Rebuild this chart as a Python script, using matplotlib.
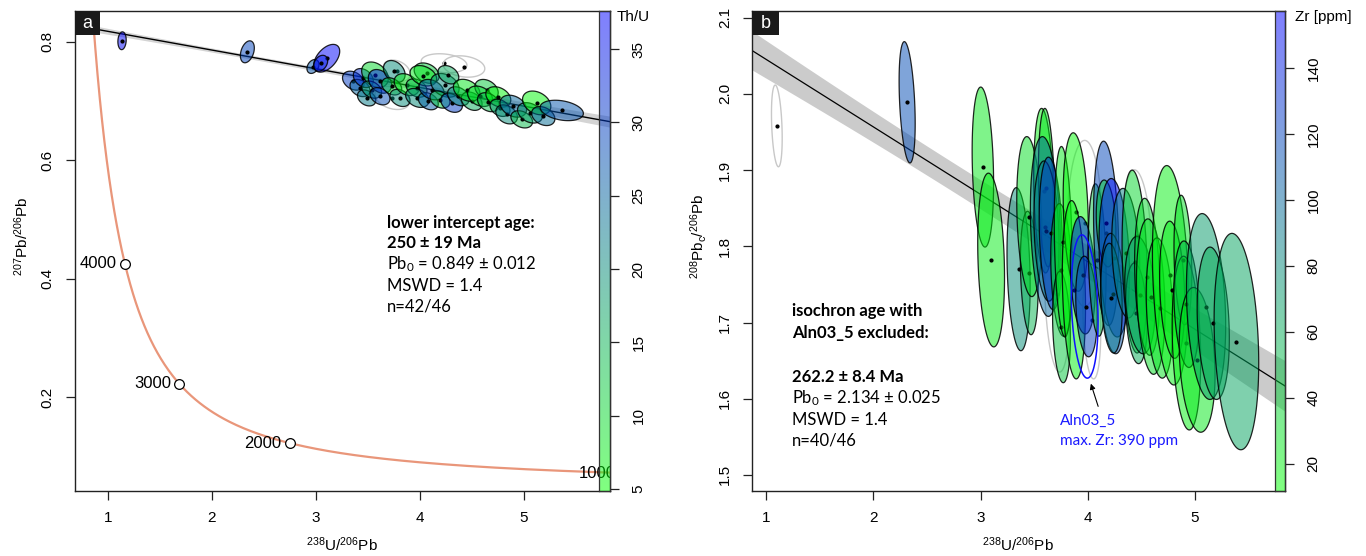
import numpy as np
import matplotlib
matplotlib.use("Agg")
import matplotlib.pyplot as plt
from matplotlib.patches import Polygon, Rectangle, FancyArrowPatch
from matplotlib.colors import LinearSegmentedColormap, Normalize
from matplotlib.transforms import ScaledTranslation

# ---------------- panel a: Tera-Wasserburg, coloured by Th/U ----------------
a_x   = [1.135, 2.340, 2.971, 3.103, 3.045, 3.359, 3.423, 3.487, 3.455, 3.567,
         3.535, 3.615, 3.615, 3.753, 3.728, 3.808, 3.872, 3.967, 4.064, 4.032,
         3.974, 4.080, 4.111, 4.240, 4.192, 4.273, 4.304, 4.369, 4.497, 4.449,
         4.640, 4.577, 4.657, 4.753, 4.769, 4.833, 4.897, 4.978, 5.058, 5.122,
         5.185, 5.363]
a_y   = [0.8016, 0.7830, 0.7582, 0.7721, 0.7637, 0.7343, 0.7219, 0.7052, 0.7387, 0.7443,
         0.7192, 0.7331, 0.7080, 0.7498, 0.7247, 0.7052, 0.7276, 0.7219, 0.7470, 0.7426,
         0.7052, 0.6997, 0.7192, 0.7264, 0.7025, 0.7443, 0.6969, 0.7080, 0.6997, 0.7181,
         0.7192, 0.7080, 0.6980, 0.7069, 0.6885, 0.6774, 0.6913, 0.6691, 0.6800, 0.6968,
         0.6746, 0.6841]
a_ex  = [0.040, 0.067, 0.058, 0.125, 0.067, 0.104, 0.096, 0.088, 0.096, 0.128,
         0.096, 0.112, 0.096, 0.104, 0.096, 0.096, 0.120, 0.100, 0.120, 0.128,
         0.112, 0.096, 0.120, 0.136, 0.096, 0.100, 0.104, 0.104, 0.100, 0.128,
         0.112, 0.120, 0.104, 0.120, 0.096, 0.104, 0.128, 0.104, 0.120, 0.136,
         0.112, 0.208]
a_ey  = [0.0150, 0.0185, 0.0117, 0.0234, 0.0134, 0.0160, 0.0145, 0.0135, 0.0160, 0.0215,
         0.0145, 0.0200, 0.0145, 0.0185, 0.0145, 0.0145, 0.0185, 0.0155, 0.0172, 0.0172,
         0.0160, 0.0145, 0.0172, 0.0200, 0.0145, 0.0155, 0.0160, 0.0160, 0.0155, 0.0185,
         0.0172, 0.0172, 0.0160, 0.0172, 0.0145, 0.0160, 0.0185, 0.0145, 0.0172, 0.0200,
         0.0160, 0.0172]
a_rho = [0.1, 0.35, 0.3, 0.5, 0.3] + [-0.3] * 37
a_thu = [37, 29, 27, 37, 34, 30, 25, 22, 32, 10,
         18, 34, 28, 20, 10, 20, 8, 14, 12, 8,
         20, 26, 28, 20, 12, 16, 30, 20, 16, 8,
         12, 10, 14, 6, 18, 20, 25, 14, 18, 6,
         24, 27]
# excluded analyses (panel a)
a_out_x   = [3.776, 3.734, 4.231, 4.423]
a_out_y   = [0.7510, 0.7052, 0.7637, 0.7582]
a_out_ex  = [0.130, 0.167, 0.220, 0.200]
a_out_ey  = [0.0180, 0.0195, 0.0160, 0.0180]
a_out_rho = [-0.3, -0.3, -0.2, -0.2]
# fit results (panel a)
a_pb0 = 0.849
a_age = 250.0          # Ma, lower intercept
a_cord_ages = [4000, 3000, 2000, 1000]
a_thu_range = (4.86, 37.6)
a_thu_ticks = [5, 10, 15, 20, 25, 30, 35]

# ---------------- panel b: 208Pbc/206Pb isochron, coloured by Zr ----------------
b_x   = [2.316, 3.022, 3.099, 3.355, 3.455, 3.455, 3.588, 3.615, 3.605, 3.615,
         3.655, 3.755, 3.755, 3.771, 3.888, 3.871, 3.954, 3.988, 4.088, 4.171,
         4.171, 4.247, 4.237, 4.221, 4.354, 4.437, 4.454, 4.487, 4.554, 4.587,
         4.670, 4.770, 4.787, 4.887, 4.920, 4.920, 5.020, 5.103, 5.170, 5.386]
b_y   = [1.989, 1.904, 1.782, 1.770, 1.765, 1.839, 1.873, 1.877, 1.826, 1.820,
         1.817, 1.769, 1.694, 1.806, 1.845, 1.743, 1.762, 1.721, 1.782, 1.817,
         1.830, 1.785, 1.738, 1.732, 1.791, 1.780, 1.712, 1.736, 1.760, 1.734,
         1.719, 1.762, 1.743, 1.782, 1.673, 1.724, 1.651, 1.721, 1.699, 1.675]
b_ex  = [0.075, 0.100, 0.125, 0.108, 0.083, 0.117, 0.092, 0.075, 0.140, 0.117,
         0.108, 0.100, 0.083, 0.083, 0.117, 0.108, 0.117, 0.100, 0.083, 0.117,
         0.092, 0.142, 0.117, 0.100, 0.130, 0.117, 0.100, 0.142, 0.117, 0.133,
         0.125, 0.167, 0.117, 0.083, 0.133, 0.117, 0.167, 0.183, 0.150, 0.208]
b_ey  = [0.0796, 0.105, 0.114, 0.107, 0.081, 0.105, 0.108, 0.104, 0.118, 0.092,
         0.100, 0.087, 0.073, 0.125, 0.104, 0.117, 0.077, 0.066, 0.100, 0.121,
         0.057, 0.104, 0.079, 0.072, 0.085, 0.120, 0.066, 0.077, 0.103, 0.102,
         0.092, 0.144, 0.090, 0.085, 0.114, 0.083, 0.095, 0.122, 0.100, 0.142]
b_rho = [-0.35] + [-0.2] * 39
b_zr  = [115, 25, 22, 78, 55, 30, 20, 28, 100, 95,
         125, 18, 45, 25, 15, 20, 145, 120, 50, 118,
         40, 150, 110, 90, 85, 35, 60, 70, 35, 30,
         28, 20, 25, 30, 20, 55, 25, 70, 60, 65]
# excluded analyses (panel b)
b_out_x   = [1.101, 3.971, 4.460, 3.715, 4.038]
b_out_y   = [1.958, 1.830, 1.813, 1.738, 1.703]
b_out_ex  = [0.050, 0.160, 0.133, 0.117, 0.083]
b_out_ey  = [0.0536, 0.109, 0.0875, 0.103, 0.077]
b_out_rho = [-0.3, 0.0, -0.2, -0.2, -0.2]
# Aln03_5 (excluded, highlighted)
aln_x, aln_y, aln_ex, aln_ey, aln_rho = 3.971, 1.721, 0.125, 0.094, -0.2
# fit results (panel b)
b_pb0 = 2.134
b_age = 262.2          # Ma
b_zr_range = (11.7, 157.3)
b_zr_ticks = [20, 40, 60, 80, 100, 120, 140]

# decay constants
L238, L235, U85 = 1.55125e-10, 9.8485e-10, 137.818

# ---------------- figure ----------------
plt.rcParams['font.family'] = ['Liberation Sans', 'DejaVu Sans']
plt.rcParams['mathtext.fontset'] = 'custom'
plt.rcParams['mathtext.rm'] = 'Liberation Sans'
plt.rcParams['mathtext.it'] = 'Liberation Sans:italic'
plt.rcParams['mathtext.bf'] = 'Liberation Sans:bold'

W, H = 1366, 556
fig = plt.figure(figsize=(W / 100, H / 100), dpi=100)


def fbox(l, t, r, b):
    return [l / W, 1 - b / H, (r - l) / W, (b - t) / H]


def fpt(x, y):
    return x / W, 1 - y / H


cmap = LinearSegmentedColormap.from_list('gb', [(0, 1, 0), (0, 0, 1)])
ANNO = ['Lato', 'DejaVu Sans']


def ellipse(ax, x, y, ex, ey, rho, fc, ec, lw, z):
    t = np.linspace(0, 2 * np.pi, 120)
    px = x + ex * np.cos(t)
    py = y + ey * (rho * np.cos(t) + np.sqrt(1 - rho ** 2) * np.sin(t))
    ax.add_patch(Polygon(np.c_[px, py], closed=True, fc=fc, ec=ec, lw=lw, zorder=z))


def style_axes(ax, xticks, yticks, ylabels):
    for s in ax.spines.values():
        s.set_linewidth(1.0)
        s.set_color('#222222')
    ax.set_xticks(xticks)
    ax.set_yticks(yticks)
    ax.set_yticklabels(ylabels)
    ax.tick_params(direction='out', length=6.5, width=0.9, labelsize=11, pad=8,
                   color='#222222')
    ax.tick_params(axis='y', labelrotation=90, pad=8)
    for lb in ax.get_yticklabels():
        lb.set_va('center')


def colorbar(rect, vrange, ticks, label, lpos):
    cax = fig.add_axes(fbox(*rect))
    grad = np.linspace(vrange[0], vrange[1], 256).reshape(-1, 1)
    cax.imshow(grad, aspect='auto', cmap=cmap, alpha=0.5, origin='lower',
               extent=[0, 1, vrange[0], vrange[1]],
               norm=Normalize(vrange[0], vrange[1]))
    cax.patch.set_alpha(0)
    cax.set_xticks([])
    cax.set_ylim(*vrange)
    cax.yaxis.tick_right()
    cax.set_yticks(ticks)
    cax.tick_params(axis='y', direction='out', length=6.5, width=0.9, labelsize=11,
                    pad=9, labelrotation=90, color='#222222')
    for lb in cax.get_yticklabels():
        lb.set_va('center')
    for s in cax.spines.values():
        s.set_linewidth(0.9)
        s.set_color('#333333')
    fig.text(*fpt(*lpos), label, ha='left', va='center', fontsize=11)


def letter(box, ch):
    l, t, r, b = box
    fig.add_artist(Rectangle((l / W, 1 - b / H), (r - l) / W, (b - t) / H,
                             transform=fig.transFigure, fc='#1a1a1a', ec='none', zorder=20))
    fig.text(*fpt((l + r) / 2, (t + b) / 2 + 1), ch, color='white', ha='center',
             va='center', fontsize=13, zorder=21)


# ---------------- panel a ----------------
axa = fig.add_axes(fbox(75, 11, 610, 491))
xa0, xa1 = 0.6827, 5.827
ya0, ya1 = 0.0423, 0.8518
axa.set_xlim(xa0, xa1)
axa.set_ylim(ya0, ya1)

# discordia line from common-Pb intercept to the concordia lower intercept
e8 = np.exp(L238 * a_age * 1e6) - 1
xi = 1 / e8
yi = (np.exp(L235 * a_age * 1e6) - 1) / (U85 * e8)
slope_a = (yi - a_pb0) / xi
xx = np.linspace(xa0, xa1, 200)
yy = a_pb0 + slope_a * xx
hw = np.sqrt(0.0033 ** 2 + (0.00257 * (xx - 2.45)) ** 2)
axa.fill_between(xx, yy - hw, yy + hw, color='#d4d4d4', lw=0, zorder=1)
axa.plot(xx, yy, color='black', lw=1.0, zorder=2)

# concordia
tt = np.linspace(150e6, 5200e6, 600)
cx = 1 / (np.exp(L238 * tt) - 1)
cy = (np.exp(L235 * tt) - 1) / (U85 * (np.exp(L238 * tt) - 1))
axa.plot(cx, cy, color='#E9967A', lw=1.6, zorder=3)
off = ScaledTranslation(-6 / 72, 0, fig.dpi_scale_trans)
for age in a_cord_ages:
    t = age * 1e6
    px = 1 / (np.exp(L238 * t) - 1)
    py = (np.exp(L235 * t) - 1) / (U85 * (np.exp(L238 * t) - 1))
    axa.plot([px], [py], 'o', mfc='white', mec='black', ms=7, mew=0.9, zorder=4)
    tx = axa.text(px, py, str(age), ha='right', va='center', fontsize=12,
                  transform=axa.transData + off, zorder=4, clip_on=True)
    tx.set_clip_box(axa.bbox)

norm_a = Normalize(*a_thu_range)
for i in range(len(a_out_x)):
    ellipse(axa, a_out_x[i], a_out_y[i], a_out_ex[i], a_out_ey[i], a_out_rho[i],
            'none', '#c8c8c8', 1.0, 5)
    axa.plot([a_out_x[i]], [a_out_y[i]], 'o', ms=2, color='black', zorder=5)
for i in range(len(a_x)):
    c = cmap(norm_a(a_thu[i]))
    ellipse(axa, a_x[i], a_y[i], a_ex[i], a_ey[i], a_rho[i],
            (c[0], c[1], c[2], 0.5), (0, 0, 0, 0.85), 0.9, 6)
    axa.plot([a_x[i]], [a_y[i]], 'o', ms=2, color='black', zorder=6)

style_axes(axa, [1, 2, 3, 4, 5], [0.2, 0.4, 0.6, 0.8], ['0.2', '0.4', '0.6', '0.8'])
colorbar((599, 11, 610, 491), a_thu_range, a_thu_ticks, 'Th/U', (617, 17))
letter((75, 11, 100, 35), 'a')

fig.text(*fpt(342, 545), r'$\mathregular{^{238}U/^{206}Pb}$', ha='center', va='center', fontsize=11)
fig.text(*fpt(22, 236), r'$\mathregular{^{207}Pb/^{206}Pb}$', ha='center', va='center',
         rotation=90, fontsize=11)

a_lines = [('lower intercept age:', 'bold', 223),
           ('250 ± 19 Ma', 'bold', 243),
           (r'Pb$_\mathregular{0}$ = 0.849 ± 0.012', 'normal', 264),
           ('MSWD = 1.4', 'normal', 286),
           ('n=42/46', 'normal', 307)]
for s, w, yp in a_lines:
    fig.text(*fpt(387, yp), s, ha='left', va='center', fontsize=12, fontweight=w, family=ANNO)

# ---------------- panel b ----------------
axb = fig.add_axes(fbox(752, 11, 1285, 491))
xb0, xb1 = 0.8695, 5.839
yb0, yb1 = 1.4789, 2.1088
axb.set_xlim(xb0, xb1)
axb.set_ylim(yb0, yb1)

gb = np.exp(L238 * b_age * 1e6) - 1
xx = np.linspace(xb0, xb1, 200)
yy = b_pb0 * (1 - gb * xx)
hw = np.sqrt(0.019 ** 2 + (0.0089 * (xx - 2.775)) ** 2)
axb.fill_between(xx, yy - hw, yy + hw, color='#cbcbcb', lw=0, zorder=1)
axb.plot(xx, yy, color='black', lw=0.9, zorder=2)

norm_b = Normalize(*b_zr_range)
for i in range(len(b_out_x)):
    ellipse(axb, b_out_x[i], b_out_y[i], b_out_ex[i], b_out_ey[i], b_out_rho[i],
            'none', '#c8c8c8', 1.0, 5)
    axb.plot([b_out_x[i]], [b_out_y[i]], 'o', ms=2, color='black', zorder=5)
for i in range(len(b_x)):
    c = cmap(norm_b(b_zr[i]))
    ellipse(axb, b_x[i], b_y[i], b_ex[i], b_ey[i], b_rho[i],
            (c[0], c[1], c[2], 0.5), (0, 0, 0, 0.85), 0.9, 6)
    axb.plot([b_x[i]], [b_y[i]], 'o', ms=2, color='black', zorder=6)
ellipse(axb, aln_x, aln_y, aln_ex, aln_ey, aln_rho, 'none', '#1010ff', 1.1, 7)

style_axes(axb, [1, 2, 3, 4, 5], [1.5, 1.6, 1.7, 1.8, 1.9, 2.0, 2.1],
           ['1.5', '1.6', '1.7', '1.8', '1.9', '2.0', '2.1'])
colorbar((1275, 11, 1285, 491), b_zr_range, b_zr_ticks, 'Zr [ppm]', (1295, 17))
letter((752, 11, 779, 35), 'b')

fig.text(*fpt(1018, 545), r'$\mathregular{^{238}U/^{206}Pb}$', ha='center', va='center', fontsize=11)
fig.text(*fpt(698, 236), r'$\mathregular{^{208}Pb_c/^{206}Pb}$', ha='center', va='center',
         rotation=90, fontsize=11)

b_lines = [('isochron age with', 'bold', 311),
           ('Aln03_5 excluded:', 'bold', 333),
           ('262.2 ± 8.4 Ma', 'bold', 377),
           (r'Pb$_\mathregular{0}$ = 2.134 ± 0.025', 'normal', 398),
           ('MSWD = 1.4', 'normal', 420),
           ('n=40/46', 'normal', 441)]
for s, w, yp in b_lines:
    fig.text(*fpt(792, yp), s, ha='left', va='center', fontsize=12, fontweight=w, family=ANNO)

fig.text(*fpt(1060, 421), 'Aln03_5', ha='left', va='center', fontsize=11, color='#1a1aff', family=ANNO)
fig.text(*fpt(1060, 441), 'max. Zr: 390 ppm', ha='left', va='center', fontsize=11, color='#1a1aff', family=ANNO)
fig.add_artist(FancyArrowPatch(fpt(1099, 409), fpt(1090, 381),
               transform=fig.transFigure, arrowstyle='-|>', mutation_scale=8,
               lw=0.8, color='black', zorder=10))

fig.savefig('out.png', dpi=100)
